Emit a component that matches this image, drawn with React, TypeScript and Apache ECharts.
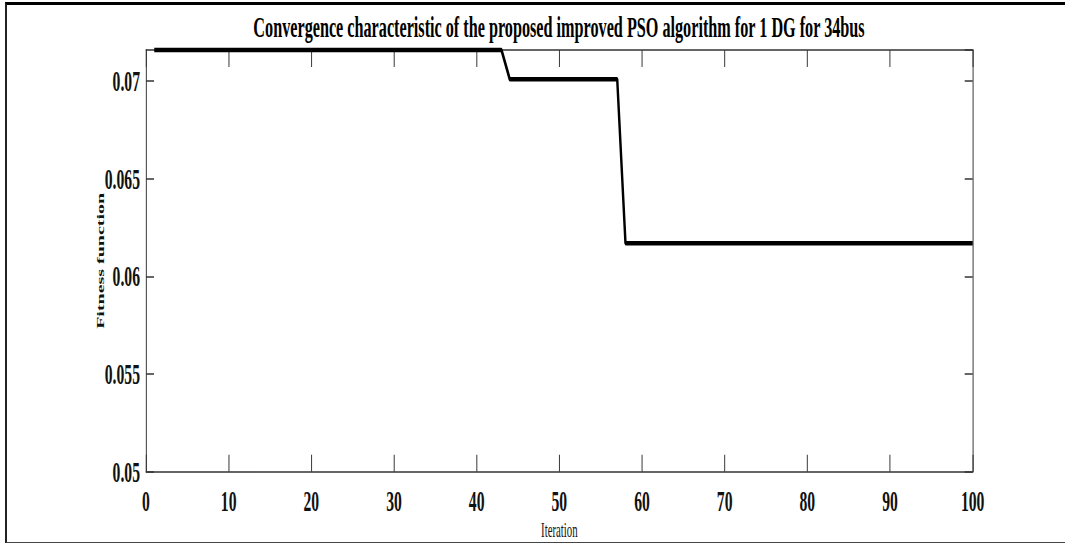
import React, { useEffect, useRef } from "react";
import * as echarts from "echarts";

// Best fitness value per iteration: breakpoints of the convergence curve
const iterations = [1, 43, 44, 57, 58, 100];
const fitness = [0.0716, 0.0716, 0.0701, 0.0701, 0.0617, 0.0617];

const titleText =
  "Convergence characteristic of the proposed improved PSO algorithm for 1 DG for 34bus";
const xName = "Iteration";
const yName = "Fitness function";

const xMin = 0;
const xMax = 100;
const xStep = 10;
const yMin = 0.05;
const yMax = 0.0716;
const yStep = 0.005;

// The figure is laid out on a wider canvas and squeezed horizontally,
// which gives the condensed Times look of the exported figure.
const SQUEEZE = 0.54;
const VIEW_W = 1065;
const VIEW_H = 543;
const CANVAS_W = Math.round(VIEW_W / SQUEEZE);
const sx = (px: number) => px / SQUEEZE;

const AXIS_COLOR = "#333333";
const FONT = "Liberation Serif";

export default function App() {
  const ref = useRef<HTMLDivElement>(null);

  useEffect(() => {
    if (!ref.current) return;
    const chart = echarts.init(ref.current, undefined, { renderer: "svg" });

    const tickLabel = {
      fontFamily: FONT,
      fontWeight: "bold" as const,
      fontSize: 29,
      color: "#111",
    };

    const xAxisBase = {
      type: "value" as const,
      min: xMin,
      max: xMax,
      interval: xStep,
      axisLine: { show: true, onZero: false, lineStyle: { color: AXIS_COLOR, width: 1.5 } },
      axisTick: { show: true, inside: true, length: 17, lineStyle: { color: AXIS_COLOR, width: 1.8 } },
      splitLine: { show: false },
    };

    const yAxisBase = {
      type: "value" as const,
      min: yMin,
      max: yMax,
      interval: yStep,
      axisLine: { show: true, onZero: false, lineStyle: { color: AXIS_COLOR, width: 1.8 } },
      axisTick: { show: true, inside: true, length: sx(8), lineStyle: { color: AXIS_COLOR, width: 1.5 } },
      splitLine: { show: false },
    };

    chart.setOption({
      animation: false,
      backgroundColor: "#ffffff",
      grid: {
        left: sx(146),
        right: CANVAS_W - sx(972.7),
        top: 50,
        bottom: VIEW_H - 471.7,
        containLabel: false,
        outerBoundsMode: "none",
      },
      xAxis: [
        {
          ...xAxisBase,
          position: "bottom",
          axisLabel: { ...tickLabel, margin: 15 },
          name: xName,
          nameLocation: "middle",
          nameGap: 48,
          nameMoveOverlap: false,
          nameTextStyle: { fontFamily: FONT, fontSize: 20, color: "#111" },
        },
        {
          ...xAxisBase,
          position: "top",
          axisLabel: { show: false },
        },
      ],
      yAxis: [
        {
          ...yAxisBase,
          position: "left",
          axisLabel: { ...tickLabel, margin: sx(6), showMaxLabel: false },
          name: yName,
          nameLocation: "middle",
          nameGap: 75,
          nameRotate: 90,
          nameMoveOverlap: false,
          nameTextStyle: { fontFamily: FONT, fontWeight: "bold", fontSize: 20, color: "#111" },
        },
        {
          ...yAxisBase,
          position: "right",
          axisLabel: { show: false },
        },
      ],
      series: [
        {
          type: "line",
          xAxisIndex: 0,
          yAxisIndex: 0,
          data: iterations.map((it, i) => [it, fitness[i]]),
          symbol: "none",
          showSymbol: false,
          clip: false,
          lineStyle: { color: "#000000", width: 4.5 },
        },
      ],
      graphic: [
        {
          type: "text",
          x: sx(559),
          y: 27,
          style: {
            text: titleText,
            font: `bold 30px "${FONT}"`,
            fill: "#000",
            textAlign: "center",
            textVerticalAlign: "middle",
            align: "center",
            verticalAlign: "middle",
          },
        },
      ],
    });

    return () => chart.dispose();
  }, []);

  return (
    <div
      style={{
        position: "fixed",
        left: 0,
        top: 0,
        width: VIEW_W,
        height: VIEW_H,
        overflow: "hidden",
        background: "#fff",
      }}
    >
      <div
        ref={ref}
        style={{
          position: "absolute",
          left: 0,
          top: 0,
          width: CANVAS_W,
          height: VIEW_H,
          transform: `scaleX(${SQUEEZE})`,
          transformOrigin: "0 0",
        }}
      />
      {/* figure frame */}
      <div
        style={{
          position: "absolute",
          left: 5,
          top: 2,
          width: VIEW_W + 20,
          height: 537,
          borderLeft: "2px solid #222",
          borderTop: "3px solid #000",
          borderBottom: "2px solid #444",
          pointerEvents: "none",
        }}
      />
    </div>
  );
}
